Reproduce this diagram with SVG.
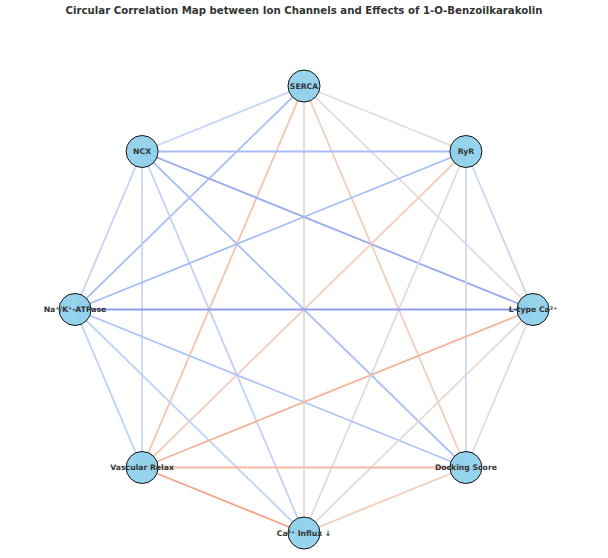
<svg xmlns="http://www.w3.org/2000/svg" width="608" height="558" viewBox="0 0 608 558">
<style>
.title{font-family:"DejaVu Sans",sans-serif;font-weight:bold;font-size:10.2px;fill:#333;text-anchor:middle}
.lbl{font-family:"DejaVu Sans",sans-serif;font-weight:bold;font-size:7.7px;fill:#333;text-anchor:middle;dominant-baseline:central}
.edges line{stroke-width:1.8;fill:none}
.node circle{fill:#87ceeb;fill-opacity:0.88;stroke:#111;stroke-width:1}
</style>
<rect width="608" height="558" fill="#fff"/>
<text class="title" x="304" y="14">Circular Correlation Map between Ion Channels and Effects of 1-O-Benzoilkarakolin</text>
<g id="connectors" class="edges">
<line x1="304" y1="86" x2="142.1" y2="151.5" stroke="#c5d5f7"/>
<line x1="304" y1="86" x2="465.9" y2="151.5" stroke="#dcdde4"/>
<line x1="304" y1="86" x2="75" y2="309.5" stroke="#a9bff5"/>
<line x1="304" y1="86" x2="533" y2="309.5" stroke="#dfdfe0"/>
<line x1="304" y1="86" x2="142.1" y2="467.5" stroke="#f3c4ae"/>
<line x1="304" y1="86" x2="304" y2="533" stroke="#e2dcd9"/>
<line x1="304" y1="86" x2="465.9" y2="467.5" stroke="#efcfc0"/>
<line x1="142.1" y1="151.5" x2="465.9" y2="151.5" stroke="#a8bdf4"/>
<line x1="142.1" y1="151.5" x2="75" y2="309.5" stroke="#c3d4f7"/>
<line x1="142.1" y1="151.5" x2="533" y2="309.5" stroke="#98a9ec"/>
<line x1="142.1" y1="151.5" x2="142.1" y2="467.5" stroke="#c9d7f5"/>
<line x1="142.1" y1="151.5" x2="304" y2="533" stroke="#c0d2f6"/>
<line x1="142.1" y1="151.5" x2="465.9" y2="467.5" stroke="#aac0f5"/>
<line x1="465.9" y1="151.5" x2="75" y2="309.5" stroke="#a5bdf5"/>
<line x1="465.9" y1="151.5" x2="533" y2="309.5" stroke="#c9d8f3"/>
<line x1="465.9" y1="151.5" x2="142.1" y2="467.5" stroke="#f2cfbd"/>
<line x1="465.9" y1="151.5" x2="304" y2="533" stroke="#dedede"/>
<line x1="465.9" y1="151.5" x2="465.9" y2="467.5" stroke="#cfdaf2"/>
<line x1="75" y1="309.5" x2="533" y2="309.5" stroke="#8c9eea"/>
<line x1="75" y1="309.5" x2="142.1" y2="467.5" stroke="#bdd0f7"/>
<line x1="75" y1="309.5" x2="304" y2="533" stroke="#c0d2f6"/>
<line x1="75" y1="309.5" x2="465.9" y2="467.5" stroke="#afc4f6"/>
<line x1="533" y1="309.5" x2="142.1" y2="467.5" stroke="#f4b59c"/>
<line x1="533" y1="309.5" x2="304" y2="533" stroke="#e6dad5"/>
<line x1="533" y1="309.5" x2="465.9" y2="467.5" stroke="#dfdfdf"/>
<line x1="142.1" y1="467.5" x2="465.9" y2="467.5" stroke="#f4b9a0"/>
<line x1="142.1" y1="467.5" x2="304" y2="533" stroke="#f2a58a"/>
<line x1="465.9" y1="467.5" x2="304" y2="533" stroke="#f2cdbb"/>
</g>
<g id="node-serca" class="node"><circle cx="304" cy="86" r="16"/><text class="lbl" x="304" y="86">SERCA</text></g>
<g id="node-ncx" class="node"><circle cx="142.1" cy="151.5" r="16"/><text class="lbl" x="142.1" y="151.5">NCX</text></g>
<g id="node-ryr" class="node"><circle cx="465.9" cy="151.5" r="16"/><text class="lbl" x="465.9" y="151.5">RyR</text></g>
<g id="node-nak" class="node"><circle cx="75" cy="309.5" r="16"/><text class="lbl" x="75" y="309.5">Na⁺/K⁺-ATPase</text></g>
<g id="node-ltype" class="node"><circle cx="533" cy="309.5" r="16"/><text class="lbl" x="533" y="309.5">L-type Ca²⁺</text></g>
<g id="node-vascular" class="node"><circle cx="142.1" cy="467.5" r="16"/><text class="lbl" x="142.1" y="467.5">Vascular Relax</text></g>
<g id="node-docking" class="node"><circle cx="465.9" cy="467.5" r="16"/><text class="lbl" x="465.9" y="467.5">Docking Score</text></g>
<g id="node-ca" class="node"><circle cx="304" cy="533" r="16"/><text class="lbl" x="304" y="533">Ca²⁺ Influx ↓</text></g>
</svg>
